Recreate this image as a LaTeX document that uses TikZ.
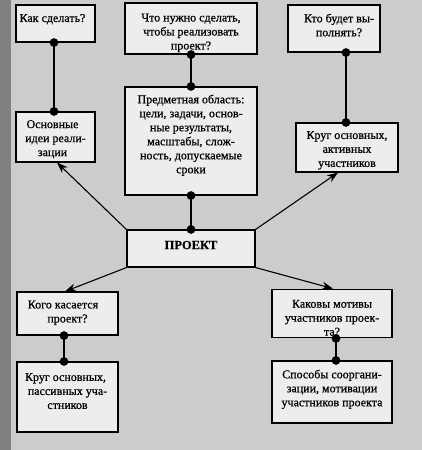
\documentclass[tikz,border=0pt]{standalone}
\usepackage{fontspec}
\setmainfont{Liberation Serif}[FakeBold=0.6]
\usetikzlibrary{arrows.meta}
\newcommand{\dn}[1]{\rule{0pt}{#1}}
\tikzset{
  x=1pt,y=-1pt,
  box/.style={draw=black,line width=1.1pt,fill=black!7,align=center,inner sep=2pt,
    font=\fontsize{12}{14}\selectfont,text=black},
  link/.style={draw=black,line width=1.2pt},
  arr/.style={draw=black,line width=1.1pt,-{Stealth[length=11pt,width=8pt]}},
  dot/.style={fill=black},
}
\begin{document}
\begin{tikzpicture}
\useasboundingbox (0,0) rectangle (422,450);
\fill[black!20] (0,0) rectangle (422,450);
\fill[black!50] (0,0) rectangle (11,450);
% nodes
\node[box,minimum width=79pt,minimum height=37pt] (A) at (55.5,23.5) {Как сделать?\hspace*{6pt}\\[-3pt]};
\node[box,minimum width=132pt,minimum height=47pt] (B) at (191,28.5) {\dn{16.5pt}Что нужно сделать,\\чтобы реализовать\\проект?};
\node[box,minimum width=92pt,minimum height=47pt] (C) at (334,28.5) {\hspace*{10pt}Кто будет вы-\\\hspace*{10pt}полнять?\\[-7pt]};
\node[box,minimum width=79pt,minimum height=50pt] (D) at (55.5,137) {\dn{12.5pt}Основные\hspace*{6pt}\\идеи реали-\hspace*{4pt}\\зации\hspace*{6pt}};
\node[box,minimum width=132pt,minimum height=108pt] (E) at (191,141) {Предметная область:\\цели, задачи, основ-\\ные результаты,\\масштабы, слож-\\ность, допускаемые\\сроки\\[0pt]};
\node[box,minimum width=102pt,minimum height=49pt] (F) at (347,147.5) {\dn{13.5pt}Круг основных,\\активных\\участников};
\node[box,minimum width=128pt,minimum height=37pt,font=\fontsize{12.5}{14}\selectfont\bfseries] (G) at (191,248.5) {ПРОЕКТ\\[-7pt]};
\node[box,minimum width=101pt,minimum height=43pt] (H) at (67.5,313.5) {Кого касается\hspace*{9pt}\\проект?\hspace*{9pt}\\[-10pt]};
\node[box,minimum width=101pt,minimum height=70pt] (I) at (67.5,397) {Круг основных,\hspace*{4pt}\\пассивных уча-\hspace*{4pt}\\стников\hspace*{4pt}\\[-2pt]};
\node[box,minimum width=120pt,minimum height=47pt] (J) at (332,313.5) {\dn{16.5pt}Каковы мотивы\\участников проек-\\та?};
\node[box,minimum width=120pt,minimum height=62pt] (K) at (332,392) {Способы сооргани-\\зации, мотивации\\участников проекта\\[-6pt]};
% dotted connectors
\coordinate (a1) at ([xshift=-1.5pt]A.south);
\coordinate (a2) at (a1 |- D.north);
\draw[link] (a1) -- (a2);
\fill[dot] (a1) circle (4.4pt) (a2) circle (4.4pt);
\coordinate (b1) at (B.south);
\coordinate (b2) at (E.north);
\draw[link] (b1) -- (b2);
\fill[dot] (b1) circle (4.4pt) (b2) circle (4.4pt);
\coordinate (c2) at ([xshift=-1pt]F.north);
\coordinate (c1) at (c2 |- C.south);
\draw[link] (c1) -- (c2);
\fill[dot] (c1) circle (4.4pt) (c2) circle (4.4pt);
\coordinate (e1) at (E.south);
\coordinate (e2) at (G.north);
\draw[link] (e1) -- (e2);
\fill[dot] (e1) circle (4.4pt) (e2) circle (4.4pt);
\coordinate (h1) at ([xshift=-3.5pt]H.south);
\coordinate (h2) at (h1 |- I.north);
\draw[link] (h1) -- (h2);
\fill[dot] (h1) circle (4.4pt) (h2) circle (4.4pt);
\coordinate (j1) at ([xshift=4pt]J.south);
\coordinate (j2) at (j1 |- K.north);
\draw[link] (j1) -- (j2);
\fill[dot] (j1) circle (4.4pt) (j2) circle (4.4pt);
% arrows
\draw[arr] (G.north west) -- ([xshift=1.5pt]D.south);
\draw[arr] (G.north east) -- ([xshift=-9pt]F.south);
\draw[arr] (G.south west) -- ([xshift=-2.5pt]H.north);
\draw[arr] (G.south east) -- ([xshift=1pt]J.north);
\end{tikzpicture}
\end{document}
